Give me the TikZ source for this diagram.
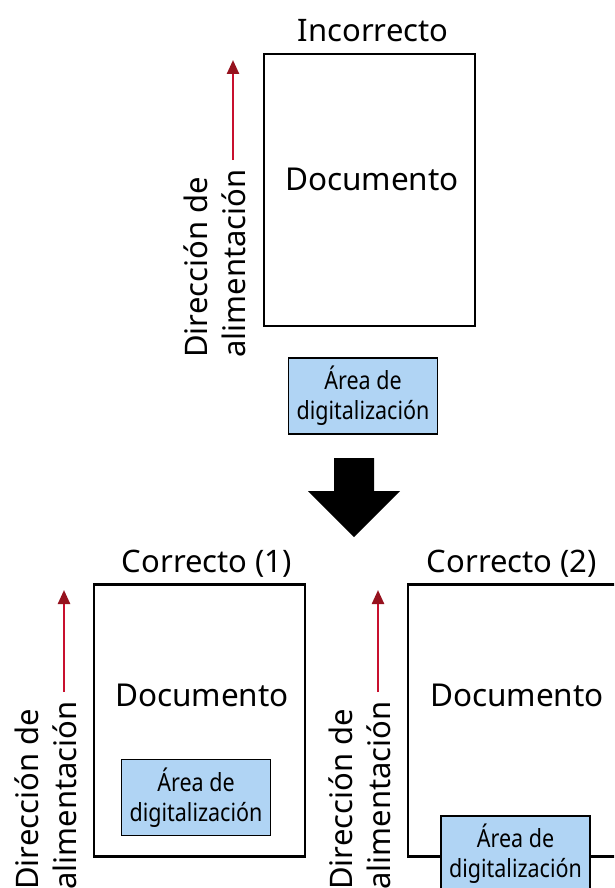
\documentclass[tikz,border=0pt]{standalone}
\usepackage{fontspec}
\setmainfont{Noto Sans}
\newfontfamily\condfont[FakeStretch=0.86]{Noto Sans}
\usetikzlibrary{arrows.meta}
\definecolor{feedred}{RGB}{200,16,46}
\definecolor{tipred}{RGB}{150,18,30}
\definecolor{scanblue}{RGB}{176,212,244}
\begin{document}
\begin{tikzpicture}[x=1pt,y=-1pt,
  docbox/.style={draw=black, line width=2.6pt, minimum width=211pt, minimum height=272pt, inner sep=0pt},
  scanbox/.style={draw=black, line width=1.6pt, fill=scanblue, minimum width=149pt, minimum height=76pt, inner sep=0pt, align=center, font=\condfont\fontsize{25}{30}\selectfont},
  titletext/.style={font=\fontsize{31}{36}\selectfont, anchor=base, inner sep=0pt},
  doctext/.style={font=\fontsize{31.5}{36}\selectfont, anchor=base, inner sep=0pt},
  feedtext/.style={font=\fontsize{31}{36}\selectfont, rotate=90, anchor=base west, inner sep=0pt},
  feedarrow/.style={draw=feedred, line width=2.4pt, -{Triangle[length=14pt,width=12pt,color=tipred]}}
]
\useasboundingbox (0,0) rectangle (614,888);
\clip (0,0) rectangle (614,888);

% ---- top: Incorrecto ----
\node[titletext] (t0) at (373,42) {Incorrecto};
\node[docbox] (doc0) at (369.5,190) {};
\node[doctext] (d0) at (372,190) {Documento};
\node[scanbox] (s0) at (363,396) {Área de\\digitalización};
\node[feedtext] (fa0) at (207,358) {Dirección de};
\node[feedtext] (fb0) at (245,358) {alimentación};
\coordinate (a0s) at (233,160);
\coordinate (a0e) at (233,60);
\draw[feedarrow] (a0s) -- (a0e);

% ---- big arrow ----
\fill[black] (334,458) -- (374,458) -- (374,491) -- (400,491) -- (354,537) -- (308,491) -- (334,491) -- cycle;

% ---- bottom left: Correcto (1) ----
\node[titletext] (t1) at (207,572) {Correcto (1)};
\node[docbox] (doc1) at (199.5,720.5) {};
\node[doctext] (d1) at (202,706) {Documento};
\node[scanbox] (s1) at (196,797.5) {Área de\\digitalización};
\node[feedtext] (fa1) at (38,890) {Dirección de};
\node[feedtext] (fb1) at (76,890) {alimentación};
\coordinate (a1s) at (64,692);
\coordinate (a1e) at (64,590);
\draw[feedarrow] (a1s) -- (a1e);

% ---- bottom right: Correcto (2) ----
\node[titletext] (t2) at (512,572) {Correcto (2)};
\node[docbox] (doc2) at (513.5,720.5) {};
\node[doctext] (d2) at (517,706) {Documento};
\node[scanbox] (s2) at (515.5,854) {Área de\\digitalización};
\node[feedtext] (fa2) at (352,890) {Dirección de};
\node[feedtext] (fb2) at (390,890) {alimentación};
\coordinate (a2s) at (378,692);
\coordinate (a2e) at (378,590);
\draw[feedarrow] (a2s) -- (a2e);
\end{tikzpicture}
\end{document}
